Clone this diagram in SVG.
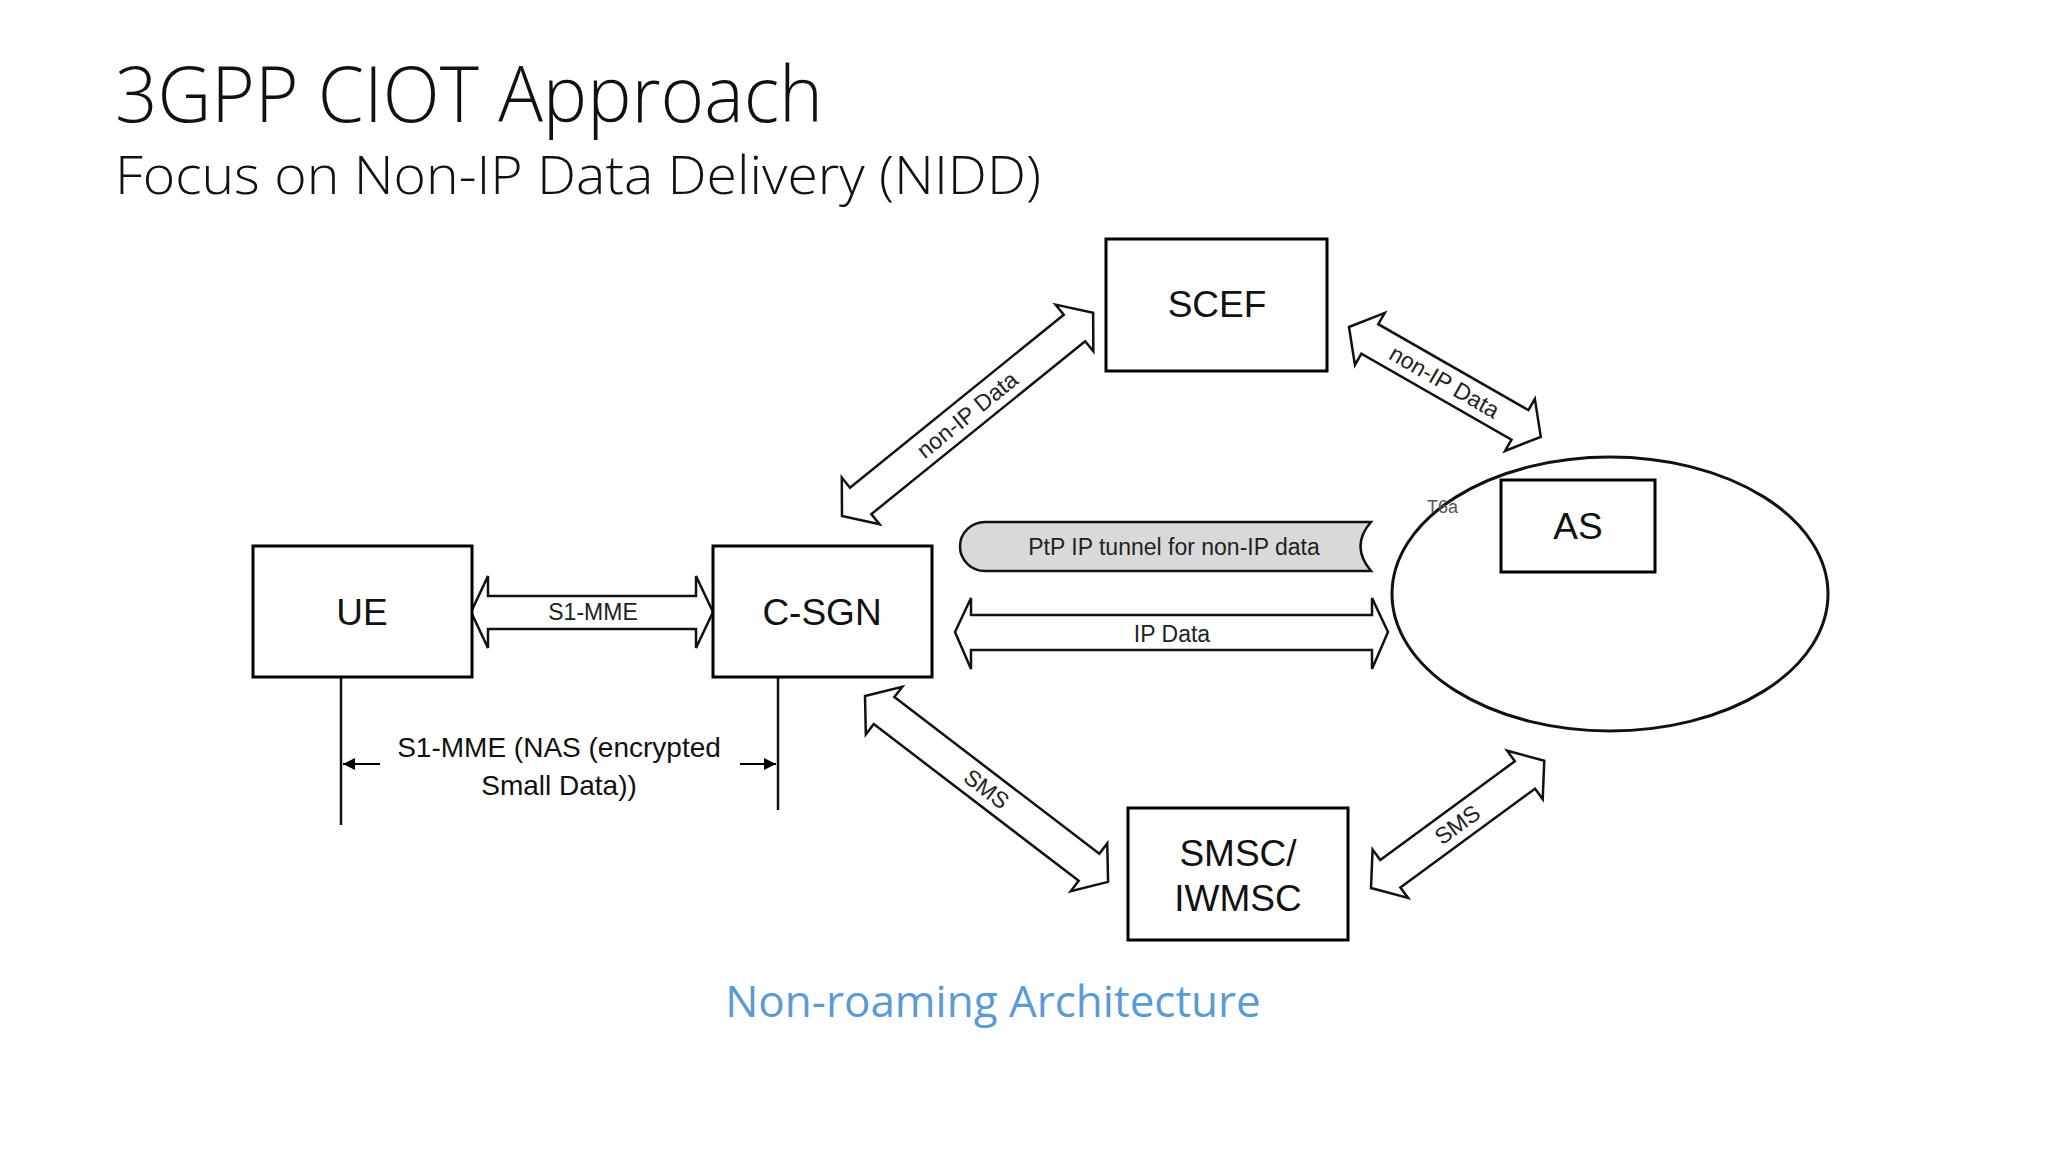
<svg xmlns="http://www.w3.org/2000/svg" width="2048" height="1152" viewBox="0 0 2048 1152">
<style>
.box{fill:#fff;stroke:#000;stroke-width:3}
.lbl{font-family:"Liberation Sans",Arial,sans-serif;font-size:37px;fill:#111;text-anchor:middle}
.cl{font-family:"Liberation Sans",Arial,sans-serif;font-size:23px;fill:#222;text-anchor:middle;dominant-baseline:central}
.arr{fill:#fff;stroke:#111;stroke-width:2.5;stroke-linejoin:miter}
.ln{stroke:#111;stroke-width:2.5;fill:none}
</style>
<defs>
<marker id="fh" viewBox="0 0 10 10" refX="10" refY="5" markerWidth="12" markerHeight="12" markerUnits="userSpaceOnUse" orient="auto-start-reverse"><path d="M0,0 L10,5 L0,10 Z" fill="#000"/></marker>
</defs>
<rect width="2048" height="1152" fill="#fff"/>
<text x="115" y="122" font-family="'Open Sans',sans-serif" font-weight="300" font-size="78" fill="#111" textLength="708" lengthAdjust="spacingAndGlyphs">3GPP CIOT Approach</text>
<text x="115" y="194" font-family="'Open Sans',sans-serif" font-weight="300" font-size="54" fill="#111" textLength="926" lengthAdjust="spacingAndGlyphs">Focus on Non-IP Data Delivery (NIDD)</text>

<g id="connectors">
  <polygon class="arr" points="471,612 488,576 488,596 696,596 696,576 713,612 696,648 696,629 488,629 488,648"/>
  <text class="cl" x="593" y="612">S1-MME</text>
  <polygon class="arr" points="955,632 971,598 971,615 1372,615 1372,598 1388,632 1372,669 1372,650 971,650 971,669"/>
  <text class="cl" x="1172" y="634">IP Data</text>
  <path d="M985,522 H1371 Q1350,546 1371,571 H985 A25,24.5 0 0 1 985,522 Z" fill="#d9d9d9" stroke="#111" stroke-width="2.5"/>
  <text class="cl" x="1174" y="547">PtP IP tunnel for non-IP data</text>
  <g transform="translate(842,516) rotate(-38.97)">
    <polygon class="arr" points="0,0 24,-30 24,-17 299,-17 299,-30 323,0 299,30 299,17 24,17 24,30"/>
    <text class="cl" x="161" y="0">non-IP Data</text>
  </g>
  <g transform="translate(1349,327) rotate(29.8)">
    <polygon class="arr" points="0,0 24,-30 24,-17 197,-17 197,-30 221,0 197,30 197,17 24,17 24,30"/>
    <text class="cl" x="110" y="0">non-IP Data</text>
  </g>
  <g transform="translate(865,696) rotate(37.4)">
    <polygon class="arr" points="0,0 24,-30 24,-17 282,-17 282,-30 306,0 282,30 282,17 24,17 24,30"/>
    <text class="cl" x="153" y="0">SMS</text>
  </g>
  <g transform="translate(1371,888) rotate(-36.3)">
    <polygon class="arr" points="0,0 24,-30 24,-17 191,-17 191,-30 215,0 191,30 191,17 24,17 24,30"/>
    <text class="cl" x="107" y="0">SMS</text>
  </g>
  <line class="ln" x1="341" y1="677" x2="341" y2="825"/>
  <line class="ln" x1="778" y1="677" x2="778" y2="810"/>
  <line stroke="#000" stroke-width="2" x1="343" y1="764" x2="776" y2="764" marker-start="url(#fh)" marker-end="url(#fh)"/>
  <rect x="380" y="735" width="360" height="70" fill="#fff"/>
  <text class="lbl" style="font-size:28px" x="559" y="757">S1-MME (NAS (encrypted</text>
  <text class="lbl" style="font-size:28px" x="559" y="795">Small Data))</text>
</g>

<g id="as-domain"><ellipse cx="1610" cy="594" rx="218" ry="137" fill="none" stroke="#111" stroke-width="3"/>
<text x="1427" y="513" font-family="'Liberation Sans',sans-serif" font-size="18" fill="#555">T6a</text></g>
<g id="ue"><rect class="box" x="253" y="546" width="219" height="131"/><text class="lbl" x="362" y="625">UE</text></g>
<g id="csgn"><rect class="box" x="713" y="546" width="219" height="131"/><text class="lbl" x="822" y="625">C-SGN</text></g>
<g id="scef"><rect class="box" x="1106" y="239" width="221" height="132"/><text class="lbl" x="1217" y="317">SCEF</text></g>
<g id="smsc"><rect class="box" x="1128" y="808" width="220" height="132"/><text class="lbl" x="1238" y="866">SMSC/</text><text class="lbl" x="1238" y="911">IWMSC</text></g>
<g id="as"><rect class="box" x="1501" y="480" width="154" height="92"/><text class="lbl" x="1578" y="539">AS</text></g>

<text x="993" y="1017" font-family="'Open Sans',sans-serif" font-size="44" fill="#5B9BD5" text-anchor="middle">Non-roaming Architecture</text>
</svg>
